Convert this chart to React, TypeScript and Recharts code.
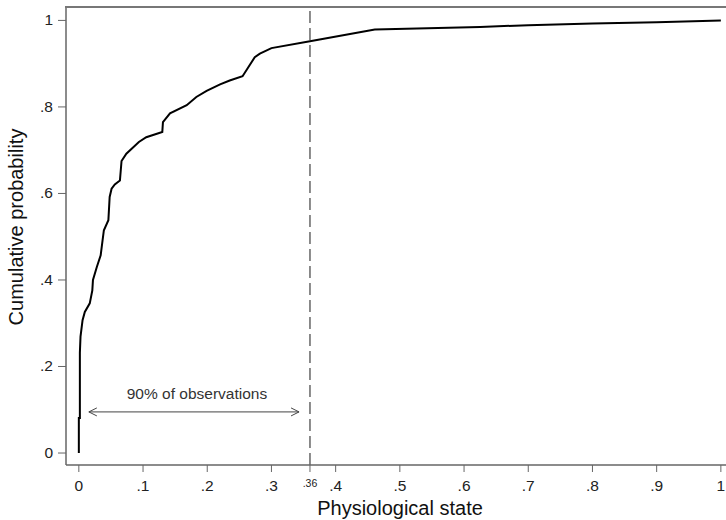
import React from "react";
import {
  LineChart,
  Line,
  XAxis,
  YAxis,
  ReferenceLine,
} from "recharts";

// empirical CDF of the physiological state score
const stateValues = [
  0, 0, 0.0016, 0.0016, 0.0026, 0.0058, 0.0093, 0.017, 0.021, 0.022, 0.028,
  0.034, 0.037, 0.039, 0.046, 0.048, 0.051, 0.056, 0.064, 0.0665, 0.074,
  0.0935, 0.105, 0.13, 0.131, 0.142, 0.168, 0.183, 0.199, 0.22, 0.235, 0.255,
  0.274, 0.282, 0.3, 0.36, 0.461, 0.625, 0.7, 0.8, 0.9, 1.0,
];
const cumulativeProb = [
  0, 0.081, 0.081, 0.232, 0.269, 0.307, 0.326, 0.346, 0.376, 0.4, 0.43, 0.457,
  0.492, 0.515, 0.538, 0.592, 0.611, 0.621, 0.63, 0.675, 0.692, 0.719, 0.73,
  0.742, 0.765, 0.785, 0.804, 0.823, 0.837, 0.852, 0.861, 0.871, 0.915, 0.923,
  0.936, 0.952, 0.979, 0.985, 0.989, 0.993, 0.996, 1.0,
];

const xTicks = [0, 0.1, 0.2, 0.3, 0.36, 0.4, 0.5, 0.6, 0.7, 0.8, 0.9, 1];
const yTicks = [0, 0.2, 0.4, 0.6, 0.8, 1];

const X_DOMAIN = [-0.02, 1.008];
const Y_DOMAIN = [-0.0277, 1.031];

const cutoff = 0.36;
const arrowFrom = 0.0156;
const arrowTo = 0.343;
const arrowLevel = 0.095;
const arrowText = "90% of observations";

const data = stateValues.map((x, i) => ({ x, y: cumulativeProb[i] }));

const FONT = '"Liberation Sans", Arial, Helvetica, sans-serif';
const AXIS = "#666";

const WIDTH = 726;
const HEIGHT = 520;
const PLOT_LEFT = 66;
const PLOT_TOP = 7;

const fmt = (v: number) => {
  if (v === 0) return "0";
  if (v === 1) return "1";
  return String(v).replace(/^0/, "");
};

function XTick(props: any) {
  const { x, y, payload } = props;
  const small = payload.value === cutoff;
  return (
    <text
      x={x}
      y={y}
      dy={small ? 13 : 17}
      textAnchor="middle"
      fontSize={small ? 10.5 : 15.5}
      fontFamily={FONT}
      fill="#222"
    >
      {fmt(payload.value)}
    </text>
  );
}

function YTick(props: any) {
  const { x, y, payload } = props;
  return (
    <text
      x={x}
      y={y}
      dy={5}
      textAnchor="end"
      fontSize={15.5}
      fontFamily={FONT}
      fill="#222"
    >
      {fmt(payload.value)}
    </text>
  );
}

// double-headed arrow with caption
function SpanArrow(props: any) {
  const { x1, y1, x2 } = props;
  const y = y1;
  const left = Math.min(x1, x2);
  const right = Math.max(x1, x2);
  return (
    <g>
      <line x1={left} y1={y} x2={right} y2={y} stroke="#444" strokeWidth={1} />
      <polyline
        points={`${left + 8},${y - 4} ${left},${y} ${left + 8},${y + 4}`}
        fill="none"
        stroke="#444"
        strokeWidth={1}
      />
      <polyline
        points={`${right - 8},${y - 4} ${right},${y} ${right - 8},${y + 4}`}
        fill="none"
        stroke="#444"
        strokeWidth={1}
      />
      <text
        x={(left + right) / 2 + 3}
        y={y - 12.5}
        textAnchor="middle"
        fontSize={15.5}
        fontFamily={FONT}
        fill="#333"
      >
        {arrowText}
      </text>
    </g>
  );
}

export default function App() {
  return (
    <div
      style={{
        position: "absolute",
        left: 0,
        top: 0,
        width: WIDTH,
        height: HEIGHT,
        background: "#fff",
      }}
    >
      <LineChart
        width={WIDTH}
        height={HEIGHT}
        data={data}
        margin={{ top: PLOT_TOP, right: 0, bottom: 0, left: 0 }}
      >
        <XAxis
          type="number"
          dataKey="x"
          domain={X_DOMAIN}
          ticks={xTicks}
          interval={0}
          height={55}
          tickSize={7}
          tickMargin={2}
          tick={<XTick />}
          tickLine={{ stroke: AXIS }}
          axisLine={{ stroke: AXIS, strokeWidth: 1.5 }}
          label={{
            value: "Physiological state",
            position: "insideBottom",
            offset: 5,
            dx: 4,
            fontSize: 20,
            fontFamily: FONT,
            fill: "#111",
          }}
        />
        <YAxis
          type="number"
          domain={Y_DOMAIN}
          ticks={yTicks}
          width={PLOT_LEFT}
          tickSize={8}
          tickMargin={5}
          tick={<YTick />}
          tickLine={{ stroke: AXIS }}
          axisLine={{ stroke: AXIS, strokeWidth: 1.5 }}
          label={{
            content: (p: any) => {
              const vb = p.viewBox;
              const cx = 23;
              const cy = vb.y + vb.height / 2 - 9;
              return (
                <text
                  x={cx}
                  y={cy}
                  transform={`rotate(-90 ${cx} ${cy})`}
                  textAnchor="middle"
                  fontSize={20}
                  fontFamily={FONT}
                  fill="#111"
                >
                  Cumulative probability
                </text>
              );
            },
          }}
        />
        <ReferenceLine
          x={cutoff}
          stroke="#666"
          strokeWidth={1.5}
          strokeDasharray="12 5"
        />
        <ReferenceLine
          segment={[
            { x: arrowFrom, y: arrowLevel },
            { x: arrowTo, y: arrowLevel },
          ]}
          shape={(p: any) => <SpanArrow {...p} />}
        />
        <Line
          type="linear"
          dataKey="y"
          stroke="#000"
          strokeWidth={2}
          dot={false}
          activeDot={false}
          isAnimationActive={false}
        />
      </LineChart>
      {/* frame line along the top of the plot region */}
      <div
        style={{
          position: "absolute",
          left: PLOT_LEFT - 1,
          top: PLOT_TOP - 1,
          width: WIDTH - PLOT_LEFT + 1,
          height: 0,
          borderTop: "2px solid #777",
          pointerEvents: "none",
        }}
      />
    </div>
  );
}
